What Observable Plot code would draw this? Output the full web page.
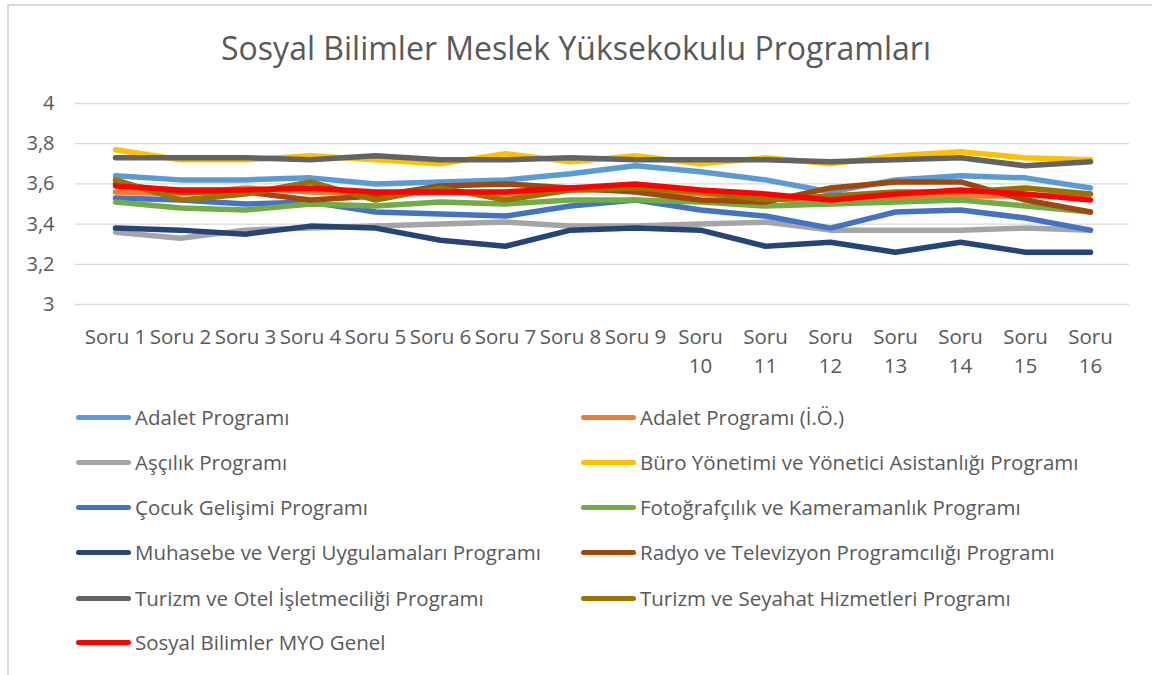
<!DOCTYPE html>
<html>
<head>
<meta charset="utf-8">
<script src="https://cdn.jsdelivr.net/npm/d3@7"></script>
<script src="https://cdn.jsdelivr.net/npm/@observablehq/plot@0.6"></script>
<style>
  html, body { margin: 0; padding: 0; background: #fff; }
  #wrap { position: relative; width: 1152px; height: 675px; overflow: hidden; font-family: "Open Sans", sans-serif; color: #595959; }
  #frame { position: absolute; left: 7px; top: 4px; width: 1160px; height: 700px; border-left: 2px solid #d9d9d9; border-top: 2px solid #d9d9d9; box-sizing: border-box; }
  #title { position: absolute; left: 0; width: 1152px; top: 26px; text-align: center; font-size: 32px; line-height: 44px; color: #595959; }
  #chart { position: absolute; left: 0; top: 0; }
  .leg { position: absolute; display: flex; align-items: center; font-size: 20.5px; white-space: nowrap; }
  .leg .sw { width: 55px; height: 5px; border-radius: 3px; margin-right: 4px; }
</style>
</head>
<body>
<div id="wrap">
  <div id="frame"></div>
  <div id="chart"></div>
  <div id="title">Sosyal Bilimler Meslek Yüksekokulu Programları</div>
</div>
<script>
const questions = ["Soru 1","Soru 2","Soru 3","Soru 4","Soru 5","Soru 6","Soru 7","Soru 8","Soru 9","Soru 10","Soru 11","Soru 12","Soru 13","Soru 14","Soru 15","Soru 16"];
const seriesNames = [
  "Adalet Programı",
  "Adalet Programı (İ.Ö.)",
  "Aşçılık Programı",
  "Büro Yönetimi ve Yönetici Asistanlığı Programı",
  "Çocuk Gelişimi Programı",
  "Fotoğrafçılık ve Kameramanlık Programı",
  "Muhasebe ve Vergi Uygulamaları Programı",
  "Radyo ve Televizyon Programcılığı Programı",
  "Turizm ve Otel İşletmeciliği Programı",
  "Turizm ve Seyahat Hizmetleri Programı",
  "Sosyal Bilimler MYO Genel"
];
const seriesColors = ["#5B9BD5","#ED7D31","#A5A5A5","#FFC000","#4472C4","#70AD47","#264478","#9E480E","#636363","#997300","#FF0000"];

const adalet        = [3.64,3.62,3.62,3.63,3.60,3.61,3.62,3.65,3.69,3.66,3.62,3.56,3.62,3.64,3.63,3.58];
const adaletIO      = [3.56,3.55,3.58,3.56,3.55,3.56,3.55,3.57,3.57,3.55,3.53,3.50,3.53,3.54,3.54,3.55];
const ascilik       = [3.36,3.33,3.37,3.38,3.39,3.40,3.41,3.39,3.39,3.40,3.41,3.37,3.37,3.37,3.38,3.37];
const buro          = [3.77,3.72,3.72,3.74,3.72,3.70,3.75,3.71,3.74,3.70,3.73,3.70,3.74,3.76,3.73,3.72];
const cocuk         = [3.53,3.52,3.50,3.51,3.46,3.45,3.44,3.49,3.52,3.47,3.44,3.38,3.46,3.47,3.43,3.37];
const foto          = [3.51,3.48,3.47,3.50,3.49,3.51,3.50,3.52,3.52,3.51,3.49,3.50,3.51,3.52,3.49,3.46];
const muhasebe      = [3.38,3.37,3.35,3.39,3.38,3.32,3.29,3.37,3.38,3.37,3.29,3.31,3.26,3.31,3.26,3.26];
const radyo         = [3.60,3.56,3.56,3.52,3.54,3.59,3.60,3.58,3.56,3.52,3.51,3.58,3.61,3.61,3.52,3.46];
const turizmOtel    = [3.73,3.73,3.73,3.72,3.74,3.72,3.72,3.73,3.72,3.72,3.72,3.71,3.72,3.73,3.69,3.71];
const turizmSeyahat = [3.62,3.52,3.55,3.61,3.52,3.58,3.52,3.57,3.58,3.56,3.52,3.54,3.56,3.56,3.58,3.55];
const genel         = [3.59,3.57,3.57,3.58,3.56,3.56,3.56,3.58,3.60,3.57,3.55,3.52,3.55,3.57,3.55,3.52];

const seriesValues = [adalet, adaletIO, ascilik, buro, cocuk, foto, muhasebe, radyo, turizmOtel, turizmSeyahat, genel];
const yTicks = [3, 3.2, 3.4, 3.6, 3.8, 4];

const rows = [];
seriesNames.forEach((name, i) => {
  questions.forEach((q, j) => rows.push({series: name, q, value: seriesValues[i][j]}));
});

const fmtQ = q => {
  const n = +q.split(" ")[1];
  return n >= 10 ? "Soru\n" + n : q;
};

const chart = Plot.plot({
  width: 1152,
  height: 380,
  marginTop: 103,
  marginBottom: 76,
  marginLeft: 75,
  marginRight: 23,
  style: {fontFamily: "Open Sans, sans-serif", color: "#595959", background: "transparent", overflow: "visible"},
  x: {type: "point", domain: questions, padding: 0.5, label: null},
  y: {domain: [3, 4], label: null},
  color: {domain: seriesNames, range: seriesColors},
  marks: [
    Plot.ruleY(yTicks, {stroke: "#d9d9d9", strokeWidth: 1.3}),
    Plot.axisY({ticks: yTicks, tickSize: 0, tickPadding: 21, fontSize: 20, fill: "#595959",
      tickFormat: d => String(d).replace(".", ",")}),
    Plot.axisX({tickSize: 0, tickPadding: 19, fontSize: 20.5, fill: "#595959", lineHeight: 1.4,
      tickFormat: fmtQ}),
    Plot.line(rows, {x: "q", y: "value", z: "series", stroke: "series", strokeWidth: 5.5,
      strokeLinecap: "round", strokeLinejoin: "round"})
  ]
});
document.getElementById("chart").appendChild(chart);

// legend
const legendRowsY = [417, 462, 507, 552, 598, 642];
const wrap = document.getElementById("wrap");
seriesNames.forEach((name, i) => {
  const row = Math.floor(i / 2), col = i % 2;
  const d = document.createElement("div");
  d.className = "leg";
  d.style.left = (col === 0 ? 76 : 581) + "px";
  d.style.top = (legendRowsY[row] - 14) + "px";
  d.style.height = "28px";
  const sw = document.createElement("div");
  sw.className = "sw";
  sw.style.background = seriesColors[i];
  const t = document.createElement("span");
  t.textContent = name;
  d.appendChild(sw); d.appendChild(t);
  wrap.appendChild(d);
});
</script>
</body>
</html>
